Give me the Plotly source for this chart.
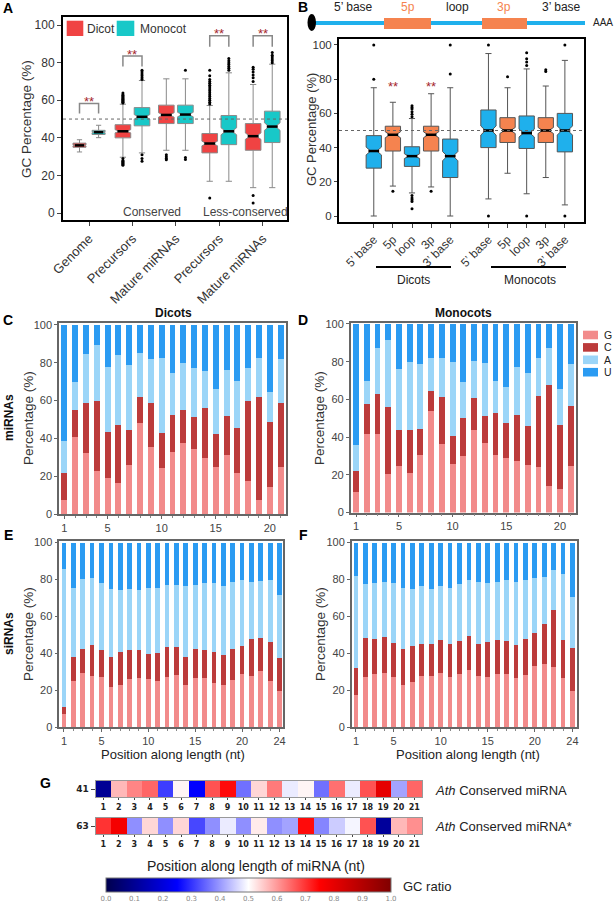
import plotly.graph_objects as go

# ====================== DATA ======================
# Panel A : GC percentage boxes (Dicot / Monocot)
A_groups = ["Genome", "Precursors", "Mature miRNAs", "Precursors", "Mature miRNAs"]
A_dicot_low = [32.5, 29.7, 33.4, 16.9, 13.5]
A_dicot_q1 = [35.0, 40.0, 47.6, 32.0, 33.4]
A_dicot_med = [36.0, 43.5, 52.2, 37.0, 40.9]
A_dicot_q3 = [37.2, 47.0, 57.4, 42.3, 47.6]
A_dicot_high = [39.0, 57.9, 71.4, 57.2, 68.4]
A_dicot_out = [[],
               [58.5, 59, 59.5, 60, 60.5, 61, 61.5, 62, 62.5, 63, 63.8, 29, 28, 27.5, 27, 26.5, 26, 25.4],
               [31, 30, 29, 28.3],
               [58, 59, 60, 61, 62, 63, 64, 65, 66, 67, 68, 69, 70, 71, 73, 76, 8],
               [70, 72, 73.5, 75, 76.5, 77.5, 9.4, 5.3]]
A_mono_low = [40.1, 32.0, 33.4, 16.9, 13.5]
A_mono_q1 = [41.8, 46.4, 47.6, 36.4, 37.5]
A_mono_med = [43.0, 51.2, 52.4, 43.5, 46.0]
A_mono_q3 = [44.0, 56.1, 57.4, 51.9, 54.2]
A_mono_high = [46.7, 70.5, 71.4, 74.6, 79.2]
A_mono_out = [[],
              [71, 72, 73, 74, 75, 76, 31, 29, 27.5],
              [76, 29.5, 28.5],
              [76, 77, 78, 79, 80, 81, 82.2],
              [80, 81, 82, 83, 84, 85.4]]

# Panel B : GC percentage by precursor region
B_labels = ["5’ base", "5p", "loop", "3p", "3’ base"] * 2
B_pos = [1, 2, 3, 4, 5, 7, 8, 9, 10, 11]
B_region = ["base", "arm", "loop", "arm", "base"] * 2
B_low = [0, 17.5, 13.5, 17, 0, 10, 25, 13, 22.5, 6.5]
B_q1 = [28, 38, 29, 38, 22.5, 40, 43, 39.5, 43, 37.5]
B_med = [38, 47.5, 35, 47.5, 35, 50, 50, 48.5, 50, 50]
B_q3 = [47, 52.5, 40.5, 52.5, 45, 62, 57.5, 58.5, 57.5, 60]
B_high = [75, 66.5, 57, 71.5, 75, 95, 75, 86, 76, 91]
B_out = [[80, 100], [14.5],
         [58, 59.5, 61, 62.5, 63.5, 64.5, 12, 10.5, 9.5, 8.5, 4.3],
         [14.5], [83, 100], [0, 100], [81.5], [0, 88, 90, 92, 95.5],
         [84.5, 85.5], [0, 100]]

# Panels C-F : nucleotide composition (%) per position
nt_names = ["G", "C", "A", "U"]
mi_pos = list(range(1, 22))
si_pos = list(range(1, 25))

C_G = [7.6, 40.8, 32.3, 22.6, 19.0, 16.3, 26.0, 48.2, 35.2, 24.4, 32.9, 37.3, 34.3, 29.5, 24.7, 31.1, 21.6, 17.3, 7.6, 14.3, 25.1]
C_C = [14.1, 14.1, 26.5, 37.4, 24.5, 30.7, 18.3, 13.6, 23.3, 18.4, 19.6, 17.8, 16.9, 26.5, 17.7, 20.5, 24.0, 42.6, 54.4, 34.1, 33.4]
C_A = [17.0, 14.9, 25.7, 29.2, 34.2, 36.9, 34.5, 23.5, 23.3, 39.7, 22.2, 24.6, 26.0, 19.4, 23.9, 24.4, 24.9, 17.1, 20.3, 16.3, 23.5]
C_U = [61.3, 30.2, 15.5, 10.8, 22.3, 16.1, 21.2, 14.7, 18.2, 17.5, 25.3, 20.3, 22.8, 24.6, 33.7, 24.0, 29.5, 23.0, 17.7, 35.3, 18.0]

D_G = [10.8, 41.4, 41.4, 20.3, 24.5, 20.8, 30.3, 53.6, 36.5, 25.9, 29.8, 43.6, 37.0, 30.3, 28.7, 27.2, 25.0, 24.3, 13.9, 12.3, 24.5]
D_C = [11.2, 16.3, 21.4, 35.7, 19.4, 23.1, 14.0, 10.6, 24.5, 14.5, 20.5, 16.9, 14.0, 22.3, 18.6, 24.7, 20.7, 37.7, 53.6, 34.3, 31.8]
D_A = [14.0, 12.3, 24.2, 35.5, 32.3, 36.1, 34.7, 17.6, 20.8, 39.3, 19.0, 19.9, 28.4, 17.2, 19.0, 25.5, 28.3, 19.7, 19.5, 18.8, 22.4]
D_U = [64.0, 30.0, 13.0, 8.5, 23.8, 20.0, 21.0, 18.2, 18.2, 20.3, 30.7, 19.6, 20.6, 30.2, 33.7, 22.6, 26.0, 18.3, 13.0, 34.6, 21.3]

E_G = [7.1, 25.1, 29.1, 27.8, 26.9, 21.5, 22.9, 26.2, 26.4, 25.8, 24.7, 27.3, 28.4, 22.9, 26.4, 26.4, 24.0, 22.9, 25.5, 28.5, 27.8, 30.4, 25.1, 19.6]
E_C = [4.0, 13.1, 13.4, 16.7, 14.6, 16.7, 17.8, 15.3, 15.1, 14.0, 15.3, 16.0, 15.2, 15.3, 16.0, 15.1, 16.7, 16.4, 16.7, 15.5, 19.8, 17.8, 20.9, 17.9]
E_A = [74.5, 37.1, 37.7, 36.2, 36.7, 36.7, 33.5, 33.2, 32.9, 35.3, 35.1, 33.6, 33.3, 38.0, 34.5, 36.5, 37.1, 37.2, 36.3, 35.5, 30.9, 30.9, 33.8, 34.0]
E_U = [14.4, 24.7, 19.8, 19.3, 21.8, 25.1, 25.8, 25.3, 25.6, 24.9, 24.9, 23.1, 23.1, 23.8, 23.1, 22.0, 22.2, 23.5, 21.5, 20.5, 21.5, 20.9, 20.2, 28.5]

F_G = [17.4, 27.1, 28.7, 29.3, 27.1, 22.8, 24.4, 27.8, 27.5, 29.1, 27.1, 28.7, 31.1, 27.5, 27.3, 28.9, 28.9, 26.8, 28.4, 33.0, 34.1, 32.7, 26.8, 19.6]
F_C = [14.6, 21.0, 18.9, 19.5, 18.3, 19.4, 19.4, 17.1, 17.4, 18.3, 17.8, 17.8, 18.1, 17.4, 18.8, 18.0, 17.6, 17.5, 19.4, 17.8, 21.7, 30.9, 20.1, 23.3]
F_A = [49.9, 29.5, 30.5, 30.0, 32.7, 33.0, 31.2, 31.6, 30.1, 29.3, 30.7, 30.9, 30.3, 33.9, 31.8, 31.7, 33.0, 34.2, 32.1, 30.2, 25.3, 21.3, 36.2, 27.8]
F_U = [18.1, 22.4, 21.9, 21.2, 21.9, 24.8, 25.0, 23.5, 25.0, 23.3, 24.4, 22.6, 20.5, 21.2, 22.1, 21.4, 20.5, 21.5, 20.1, 19.0, 18.9, 15.1, 16.9, 29.3]

# Panel G : GC ratio heatmap
G_pos = list(range(1, 22))
G_row_labels = ["41", "63"]
G_mirna = [0.10, 0.57, 0.62, 0.65, 0.31, 0.51, 0.25, 0.67, 0.74, 0.36, 0.54,
           0.63, 0.48, 0.51, 0.36, 0.64, 0.48, 0.67, 0.80, 0.41, 0.65]
G_star = [0.70, 0.77, 0.39, 0.54, 0.39, 0.54, 0.32, 0.39, 0.48, 0.39, 0.52,
          0.39, 0.41, 0.74, 0.38, 0.45, 0.49, 0.67, 0.11, 0.57, 0.61]

# ====================== STYLE ======================
W, H = 614, 903
FONT = "Arial, Liberation Sans, Helvetica, sans-serif"
RED, CYAN = "#F04343", "#18C8C8"
BBLUE, BORANGE = "#1FB0EC", "#F5834F"
NT_COL = {"G": "#F28B8B", "C": "#BC3B3B", "A": "#9BD5F8", "U": "#2B9BF2"}
SIG = "#A5262B"


def px(x):
    return x / W


def py(y):
    return 1 - y / H


fig = go.Figure()
shapes, annotations = [], []


def T(text, x, y, size=12, color="#222", bold=False, angle=0, xanchor="center",
      yanchor="middle", family=FONT):
    annotations.append(dict(text=("<b>%s</b>" % text) if bold else text, x=px(x), y=py(y),
                            xref="paper", yref="paper", showarrow=False, textangle=angle,
                            font=dict(size=size, color=color, family=family),
                            xanchor=xanchor, yanchor=yanchor))


def add_box(xa, ya, pos, lo, q1, med, q3, hi, outl, color, lc, width, nw):
    notch = 0.12 * (q3 - q1)
    fig.add_trace(go.Box(x=[pos], lowerfence=[lo], q1=[q1], median=[med], q3=[q3],
                         upperfence=[hi], notched=True, notchspan=[notch], notchwidth=nw,
                         width=width, fillcolor=color, line=dict(color=lc, width=1),
                         whiskerwidth=0.4, orientation="v", boxpoints=False,
                         xaxis=xa, yaxis=ya, showlegend=False, hoverinfo="skip"))
    hw = 0.5 * width * (1 - nw)
    fig.add_trace(go.Scatter(x=[pos - hw, pos + hw], y=[med, med], mode="lines",
                             line=dict(color="black", width=2.5), xaxis=xa, yaxis=ya,
                             showlegend=False, hoverinfo="skip"))
    if outl:
        fig.add_trace(go.Scatter(x=[pos] * len(outl), y=outl, mode="markers",
                                 marker=dict(color="black", size=3), xaxis=xa, yaxis=ya,
                                 showlegend=False, hoverinfo="skip"))


# ---------- Panel A ----------
OFF = 0.22
for i in range(5):
    w = 0.30 if i == 0 else 0.36
    add_box("x", "y", i + 1 - OFF, A_dicot_low[i], A_dicot_q1[i], A_dicot_med[i], A_dicot_q3[i],
            A_dicot_high[i], A_dicot_out[i], RED, "#8A8A8A", w, 0.3)
    add_box("x", "y", i + 1 + OFF, A_mono_low[i], A_mono_q1[i], A_mono_med[i], A_mono_q3[i],
            A_mono_high[i], A_mono_out[i], CYAN, "#8A8A8A", w, 0.3)

# ---------- Panel B ----------
for i in range(10):
    col = BORANGE if B_region[i] == "arm" else BBLUE
    add_box("x2", "y2", B_pos[i], B_low[i], B_q1[i], B_med[i], B_q3[i], B_high[i], B_out[i],
            col, "#555555", 0.8, 0.3)


# ---------- Panels C-F ----------
def add_stack(xa, ya, pos, series, width):
    for name, vals in zip(nt_names, series):
        fig.add_trace(go.Bar(x=pos, y=vals, width=width, marker=dict(color=NT_COL[name], line=dict(width=0)),
                             xaxis=xa, yaxis=ya, showlegend=False, hoverinfo="skip", name=name))


add_stack("x3", "y3", mi_pos, [C_G, C_C, C_A, C_U], 0.55)
add_stack("x4", "y4", mi_pos, [D_G, D_C, D_A, D_U], 0.55)
add_stack("x5", "y5", si_pos, [E_G, E_C, E_A, E_U], 0.5)
add_stack("x6", "y6", si_pos, [F_G, F_C, F_A, F_U], 0.5)

# ---------- Panel G ----------
seismic = [[0, "rgb(0,0,77)"], [0.25, "rgb(0,0,255)"], [0.5, "rgb(255,255,255)"],
           [0.75, "rgb(255,0,0)"], [1, "rgb(128,0,0)"]]
fig.add_trace(go.Heatmap(z=[G_mirna], x=G_pos, y=[0], zmin=0, zmax=1, colorscale=seismic,
                         xaxis="x7", yaxis="y7", hoverinfo="skip", showscale=True,
                         colorbar=dict(orientation="h", x=px(248.5), xanchor="center",
                                       y=py(878), yanchor="top", len=285 / W, lenmode="fraction",
                                       thickness=14, thicknessmode="pixels", outlinewidth=1,
                                       outlinecolor="#777", xpad=0, ypad=0,
                                       tickvals=[i / 10 for i in range(11)],
                                       ticktext=["%.1f" % (i / 10) for i in range(11)],
                                       tickfont=dict(size=7, color="#888", family="DejaVu Sans"),
                                       ticks="")))
fig.add_trace(go.Heatmap(z=[G_star], x=G_pos, y=[0], zmin=0, zmax=1, colorscale=seismic,
                         xaxis="x8", yaxis="y8", hoverinfo="skip", showscale=False))


# ====================== AXES ======================
def ax(domain, rng, anchor, **kw):
    d = dict(domain=domain, range=rng, anchor=anchor, showgrid=False, zeroline=False,
             showline=True, mirror=True, ticks="outside", fixedrange=True)
    d.update(kw)
    return d


boxframe = dict(linecolor="black", linewidth=2, tickcolor="#444")
barframe = dict(linecolor="#666", linewidth=1.5, tickcolor="#666", ticklen=3,
                tickfont=dict(size=11, color="#444"))
y_ticks = dict(tickvals=[0, 20, 40, 60, 80, 100])

layout = dict(
    width=W, height=H, margin=dict(l=0, r=0, t=0, b=0), autosize=False, template="none",
    paper_bgcolor="white", plot_bgcolor="white", barmode="stack", showlegend=False,
    font=dict(family=FONT),
    xaxis=ax([px(63), px(287)], [0.4, 5.56], "y", tickvals=[1, 2, 3, 4, 5], ticktext=A_groups,
             tickangle=-45, ticklen=4, tickfont=dict(size=13, color="#333"), **boxframe),
    yaxis=ax([py(220), py(17)], [-3.7, 104.3], "x", ticklen=4,
             tickfont=dict(size=12, color="#333"), **y_ticks, **boxframe),
    xaxis2=ax([px(339), px(584)], [-0.82, 12.0], "y2", tickvals=B_pos, ticktext=B_labels,
              tickangle=-45, ticklen=4, tickfont=dict(size=12, color="#333"), **boxframe),
    yaxis2=ax([py(222), py(39)], [-3.5, 103.5], "x2", ticklen=3,
              tickfont=dict(size=11.5, color="#333"), **y_ticks, **boxframe),
    xaxis3=ax([px(59), px(286)], [0.5, 21.5], "y3", tickvals=[1, 5, 10, 15, 20],
              minor=dict(tickvals=mi_pos, ticks="outside", ticklen=2, tickcolor="#888"), **barframe),
    yaxis3=ax([py(514), py(323)], [0, 101], "x3", **y_ticks, **barframe),
    xaxis4=ax([px(350.7), px(576)], [0.5, 21.5], "y4", tickvals=[1, 5, 10, 15, 20],
              minor=dict(tickvals=mi_pos, ticks="outside", ticklen=2, tickcolor="#888"), **barframe),
    yaxis4=ax([py(512.5), py(323)], [0, 100.5], "x4", **y_ticks, **barframe),
    xaxis5=ax([px(59.3), px(283.3)], [0.5, 24.4], "y5", tickvals=[1, 5, 10, 15, 20, 24],
              minor=dict(tickvals=si_pos, ticks="outside", ticklen=2, tickcolor="#888"), **barframe),
    yaxis5=ax([py(727), py(540.7)], [0, 101], "x5", **y_ticks, **barframe),
    xaxis6=ax([px(351.7), px(576.7)], [0.55, 24.45], "y6", tickvals=[1, 5, 10, 15, 20, 24],
              minor=dict(tickvals=si_pos, ticks="outside", ticklen=2, tickcolor="#888"), **barframe),
    yaxis6=ax([py(727), py(540.7)], [0, 101], "x6", **y_ticks, **barframe),
)
gx = dict(tickvals=G_pos, ticktext=["<b>%d</b>" % p for p in G_pos], ticklen=2,
          tickfont=dict(size=8, color="#222", family="DejaVu Sans"), linecolor="#999",
          linewidth=1, tickcolor="#444")
layout["xaxis7"] = ax([px(95.5), px(422)], [0.5, 21.5], "y7", **gx)
layout["yaxis7"] = ax([py(797), py(781)], [-0.5, 0.5], "x7", tickvals=[0],
                      ticktext=["<b>%s</b>" % G_row_labels[0]], ticklen=4, linecolor="#999",
                      tickfont=dict(size=9, color="#222", family="DejaVu Sans"))
layout["xaxis8"] = ax([px(95.5), px(422)], [0.5, 21.5], "y8", **gx)
layout["yaxis8"] = ax([py(834), py(818)], [-0.5, 0.5], "x8", tickvals=[0],
                      ticktext=["<b>%s</b>" % G_row_labels[1]], ticklen=4, linecolor="#999",
                      tickfont=dict(size=9, color="#222", family="DejaVu Sans"))

# ====================== DECORATIONS ======================
# dotted 50% reference lines
for xr, yr in (("x", "y"), ("x2", "y2")):
    shapes.append(dict(type="line", xref=xr + " domain", yref=yr, x0=0, x1=1, y0=50, y1=50,
                       line=dict(color="#666", width=1, dash="dot")))

# significance brackets (panel A)
for gi, top, leg in ((1, 58.3, 53.0), (2, 83.5, 78.0), (4, 94.3, 88.5), (5, 94.3, 88.5)):
    shapes.append(dict(type="path", xref="x", yref="y",
                       path="M %f,%f L %f,%f L %f,%f L %f,%f" % (gi - OFF, leg, gi - OFF, top,
                                                                 gi + OFF, top, gi + OFF, leg),
                       line=dict(color="#888", width=1.5)))
    annotations.append(dict(text="**", x=gi, y=top + 1.0, xref="x", yref="y", showarrow=False,
                            yanchor="middle", font=dict(size=13, color=SIG, family=FONT)))
for bx in (2, 4):
    annotations.append(dict(text="**", x=bx, y=76, xref="x2", yref="y2", showarrow=False,
                            yanchor="middle", font=dict(size=13, color=SIG, family=FONT)))

# legend panel A
shapes.append(dict(type="rect", xref="paper", yref="paper", x0=px(66.7), x1=px(83.3),
                   y0=py(36), y1=py(20.7), fillcolor=RED, line=dict(width=0)))
shapes.append(dict(type="rect", xref="paper", yref="paper", x0=px(116.7), x1=px(134.3),
                   y0=py(36), y1=py(20.7), fillcolor=CYAN, line=dict(width=0)))
T("Dicot", 85, 29, 12, "#333", xanchor="left")
T("Monocot", 138, 29, 12, "#333", xanchor="left")
T("Conserved", 152, 212, 12, "#444")
T("Less-conserved", 245, 212, 12, "#444")
T("GC Percentage (%)", 26, 119, 13.5, "#333", angle=-90)

# panel B precursor diagram
shapes.append(dict(type="line", xref="paper", yref="paper", x0=px(313), x1=px(585), y0=py(23),
                   y1=py(23), line=dict(color="#1FB0EC", width=4)))
for x0, x1 in ((384, 431), (482, 527)):
    shapes.append(dict(type="rect", xref="paper", yref="paper", x0=px(x0), x1=px(x1), y0=py(29),
                       y1=py(18), fillcolor=BORANGE, line=dict(width=0)))
shapes.append(dict(type="circle", xref="paper", yref="paper", x0=px(307.5), x1=px(316), y0=py(31),
                   y1=py(14), fillcolor="black", line=dict(width=0)))
T("5’ base", 353, 7, 12, "#222")
T("5p", 408, 7, 12, BORANGE)
T("loop", 457, 7, 12, "#222")
T("3p", 504, 7, 12, BORANGE)
T("3’ base", 561, 7, 12, "#222")
T("AAA", 603, 23, 10, "#222")
T("GC Percentage (%)", 311, 130, 13, "#333", angle=-90)
for x0, x1, lab, cx in ((376, 451, "Dicots", 413), (491, 566, "Monocots", 530)):
    shapes.append(dict(type="line", xref="paper", yref="paper", x0=px(x0), x1=px(x1), y0=py(267),
                       y1=py(267), line=dict(color="black", width=2)))
    T(lab, cx, 280, 12, "#222")

# panels C-F titles
T("Dicots", 173, 313, 12, "#111", bold=True)
T("Monocots", 463, 313, 12, "#111", bold=True)
T("miRNAs", 9, 418, 12, "#111", bold=True, angle=-90)
T("siRNAs", 9, 634, 12, "#111", bold=True, angle=-90)
for x, y in ((28, 418), (319, 418), (28, 634), (320, 634)):
    T("Percentage (%)", x, y, 13.5, "#333", angle=-90)
T("Position along length (nt)", 173, 754, 13, "#222")
T("Position along length (nt)", 468, 754, 13, "#222")
# nucleotide legend
for i, name in enumerate(nt_names):
    yt = 330.7 + i * 12.4
    shapes.append(dict(type="rect", xref="paper", yref="paper", x0=px(583), x1=px(598),
                       y0=py(yt + 8.6), y1=py(yt), fillcolor=NT_COL[name], line=dict(width=0)))
    T(name, 601.5, yt + 4.3, 10.5, "#222", xanchor="left")

# panel G texts
T("<i>Ath</i> Conserved miRNA", 433, 790, 13, "#222", xanchor="left")
T("<i>Ath</i> Conserved miRNA*", 433, 826, 13, "#222", xanchor="left")
T("Position along length of miRNA (nt)", 256, 866, 14, "#222")
T("GC ratio", 401, 886, 13, "#222", xanchor="left")

# panel letters
for lab, x, y in (("A", 8, 8), ("B", 303, 7), ("C", 8, 320), ("D", 303, 320),
                  ("E", 8, 535), ("F", 303, 535), ("G", 45, 783)):
    T(lab, x, y, 14, "black", bold=True)

layout["shapes"] = shapes
layout["annotations"] = annotations
fig.update_layout(**layout)
fig.write_html("out.html", config={"displayModeBar": False},
               post_script="document.body.style.margin='0px';document.body.style.padding='0px';"
                           "document.body.style.overflow='hidden';")
